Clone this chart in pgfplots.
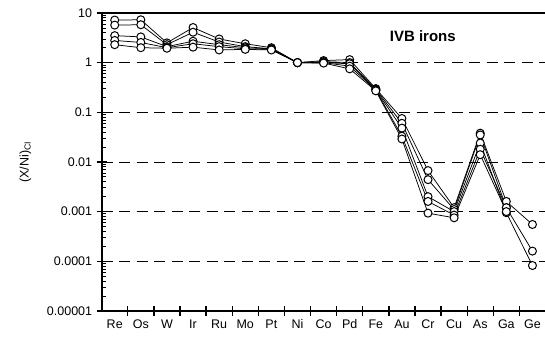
\documentclass[border=0pt]{standalone}
\usepackage{pgfplots}
\pgfplotsset{compat=1.18}
\usepackage{fontspec}
\setmainfont{Liberation Sans}
\begin{document}
\begin{tikzpicture}
\begin{semilogyaxis}[
  at={(0,0)}, anchor=south west,
  width=444pt, height=298pt, scale only axis,
  xmin=0, xmax=17, ymin=1e-5, ymax=10,
  axis x line*=bottom, axis y line*=left,
  axis line style={-, line width=1.8pt},
  xtick={1,2,...,16},
  xticklabels={},
  extra x ticks={0.5,1.5,...,16.5},
  extra x tick labels={Re,Os,W,Ir,Ru,Mo,Pt,Ni,Co,Pd,Fe,Au,Cr,Cu,As,Ga,Ge},
  extra x tick style={major tick length=0pt, grid=none},
  ytick={1e-5,1e-4,1e-3,1e-2,1e-1,1,10},
  yticklabels={0.00001,0.0001,0.001,0.01,0.1,1,10},
  tick style={black, line width=1.3pt},
  tick align=center,
  major tick length=10pt,
  minor tick length=4pt,
  minor y tick style={xshift=2pt, line width=0.8pt},
  ymajorgrids,
  major grid style={black, line width=0.8pt, dash pattern=on 11pt off 6.5pt},
  tick label style={font=\fontsize{12.5}{14}\selectfont},
  xticklabel style={yshift=-5pt},
  yticklabel style={xshift=-1pt},
  ylabel={(X/Ni)\textsubscript{CI}},
  every axis y label/.style={at={(axis description cs:-0.172,0.5)}, rotate=90, anchor=center, font=\fontsize{12.5}{14}\selectfont},
  series/.style={black, line width=0.75pt, mark=*, mark size=4pt, mark options={fill=white, draw=black, line width=1pt, solid}},
  clip=false,
]
\addplot[series] table {
x y
0.5 7.2
1.5 7.3
2.5 2.5
3.5 5.1
4.5 3.0
5.5 2.4
6.5 2.0
7.5 1.0
8.5 1.1
9.5 1.15
10.5 0.30
11.5 0.075
12.5 0.0067
13.5 0.0012
14.5 0.038
15.5 0.0016
16.5 0.00055
};
\addplot[series] table {
x y
0.5 5.7
1.5 5.8
2.5 2.3
3.5 4.1
4.5 2.6
5.5 2.1
6.5 1.9
7.5 1.0
8.5 1.05
9.5 1.0
10.5 0.29
11.5 0.060
12.5 0.0044
13.5 0.0011
14.5 0.035
15.5 0.0012
16.5 0.00016
};
\addplot[series] table {
x y
0.5 3.5
1.5 3.3
2.5 2.1
3.5 2.7
4.5 2.3
5.5 2.0
6.5 1.9
7.5 1.0
8.5 1.0
9.5 0.95
10.5 0.28
11.5 0.048
12.5 0.0020
13.5 0.0010
14.5 0.024
15.5 0.00095
16.5 0.000082
};
\addplot[series] table {
x y
0.5 2.8
1.5 2.55
2.5 2.0
3.5 2.4
4.5 2.1
5.5 1.9
6.5 1.85
7.5 1.0
8.5 1.0
9.5 0.85
10.5 0.28
11.5 0.033
12.5 0.0016
13.5 0.00085
14.5 0.018
15.5 0.0012
};
\addplot[series] table {
x y
0.5 2.3
1.5 2.0
2.5 1.95
3.5 2.05
4.5 1.8
5.5 1.85
6.5 1.8
7.5 1.0
8.5 0.98
9.5 0.75
10.5 0.27
11.5 0.029
12.5 0.00093
13.5 0.00075
14.5 0.014
15.5 0.0010
};
\draw[line width=1.8pt] (rel axis cs:0,1) -- (rel axis cs:1,1);
\node[font=\bfseries\fontsize{15}{18}\selectfont] at (axis description cs:0.7236,0.923) {IVB irons};
\end{semilogyaxis}
\pgfresetboundingbox
\path[use as bounding box] (-101.7pt,-28pt) rectangle (443.5pt,311pt);
\end{tikzpicture}
\end{document}
